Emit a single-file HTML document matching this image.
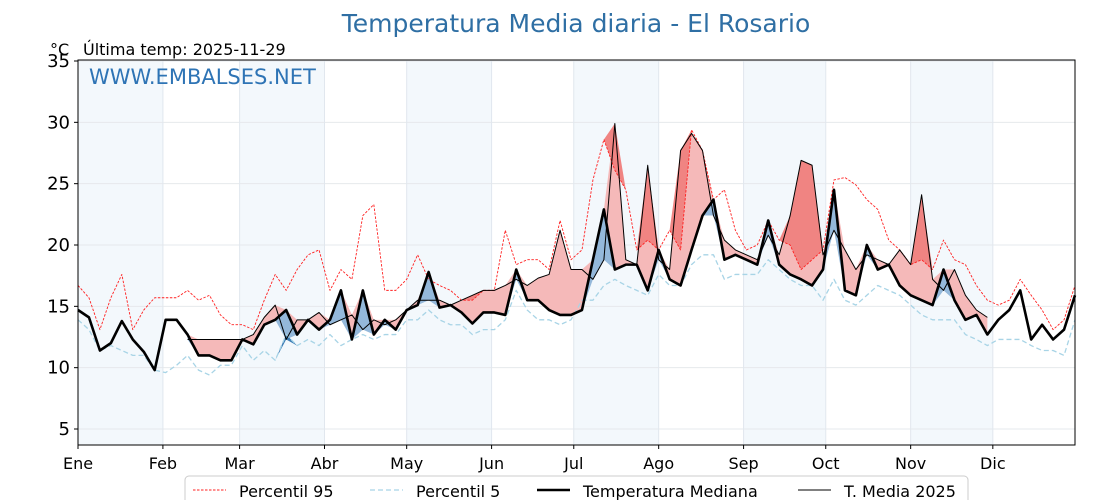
<!DOCTYPE html>
<html><head><meta charset="utf-8"><style>
body{margin:0;background:#fff;}
svg{display:block;font-family:"Liberation Sans","DejaVu Sans",sans-serif;}
</style></head><body>
<svg id="chart" width="1120" height="500" viewBox="0 0 1120 500" xmlns="http://www.w3.org/2000/svg">
<text x="576" y="32" text-anchor="middle" font-size="25" fill="#2f6fa4" font-family="DejaVu Sans, sans-serif">Temperatura Media diaria - El Rosario</text>
<text x="50" y="55" font-size="16" fill="#000" font-family="DejaVu Sans, sans-serif">°C</text>
<text x="83" y="55" font-size="16" fill="#000" font-family="DejaVu Sans, sans-serif">Última temp: 2025-11-29</text>
<g id="plot"></g>
</svg>
<script>
const monthLabels=["Ene","Feb","Mar","Abr","May","Jun","Jul","Ago","Sep","Oct","Nov","Dic"];
const monthStarts=[0,31,59,90,120,151,181,212,243,273,304,334];
const yTicks=[5,10,15,20,25,30,35];
const sampleStep=4;
const median=[14.7,14.1,11.4,12.0,13.8,12.3,11.3,9.8,13.9,13.9,12.7,11.0,11.0,10.6,10.6,12.3,11.9,13.5,13.9,14.7,12.7,13.9,13.1,13.9,16.3,12.3,16.3,12.7,13.9,13.1,14.7,15.1,17.8,14.9,15.1,14.5,13.6,14.5,14.5,14.3,18.0,15.5,15.5,14.7,14.3,14.3,14.7,18.8,22.9,18.0,18.4,18.4,16.3,19.6,17.2,16.7,19.6,22.4,23.7,18.8,19.2,18.8,18.4,22.0,18.4,17.6,17.2,16.7,18.0,24.5,16.3,15.9,20.0,18.0,18.4,16.7,15.9,15.5,15.1,18.0,15.5,13.9,14.3,12.7,13.9,14.7,16.3,12.3,13.5,12.3,13.1,15.9];
const p95=[16.7,15.7,13.1,15.7,17.6,13.1,14.7,15.7,15.7,15.7,16.3,15.5,15.9,14.3,13.5,13.5,13.1,15.5,17.6,16.3,18.0,19.2,19.6,16.3,18.0,17.2,22.4,23.3,16.3,16.3,17.2,19.2,17.2,16.7,16.3,15.5,15.5,16.3,16.3,21.2,18.4,18.8,18.8,18.0,22.0,18.8,19.6,25.3,28.6,26.1,24.5,19.6,20.4,19.6,21.2,19.6,29.4,27.7,23.7,24.5,21.2,19.6,20.0,22.0,20.4,20.0,18.0,18.8,19.6,25.3,25.5,24.9,23.7,22.9,20.4,19.6,18.4,18.8,18.0,20.4,18.8,18.4,16.7,15.5,15.1,15.5,17.2,15.9,14.7,13.1,13.9,16.7];
const p5=[13.9,13.1,11.4,11.8,11.4,11.0,11.0,9.8,9.6,10.2,11.0,9.8,9.4,10.2,10.2,11.8,10.6,11.4,10.6,12.7,11.8,12.3,11.8,12.7,11.8,12.3,12.7,12.3,12.7,12.7,13.9,13.9,14.7,13.9,13.5,13.5,12.7,13.1,13.1,13.9,16.3,14.7,13.9,13.9,13.5,13.9,15.5,15.5,16.7,17.2,16.7,16.3,15.9,17.6,16.7,16.7,18.4,19.2,19.2,17.2,17.6,17.6,17.6,18.8,18.0,17.2,16.7,16.7,15.5,17.2,15.5,15.1,15.9,16.7,16.3,15.9,15.1,14.3,13.9,13.9,13.9,12.7,12.3,11.8,12.3,12.3,12.3,11.8,11.4,11.4,11.0,13.9];
const t2025Start=40;
const t2025=[12.3,12.3,12.3,12.3,12.3,12.3,12.7,14.1,15.1,12.3,13.9,13.9,14.5,13.5,13.9,14.3,13.1,13.9,13.5,13.9,14.7,15.5,15.5,15.5,15.1,15.5,15.9,16.3,16.3,16.7,17.2,16.7,17.3,17.6,21.2,18.0,18.0,17.2,18.8,29.9,18.8,18.4,26.5,18.8,18.0,27.7,29.1,27.7,22.4,20.4,19.6,19.2,18.8,20.8,19.2,22.4,26.9,26.5,19.2,21.2,19.6,18.0,19.2,18.8,18.4,19.6,18.4,24.1,17.2,16.3,18.0,15.9,14.7,14.1];

const NS="http://www.w3.org/2000/svg";
const L=78,R=1075,T=60,B=445;
const xs=d=>L+(d/364)*(R-L);
const ys=v=>429-(v-5)*(429-61)/30;
const g=document.getElementById('plot');
function mk(tag,attrs,parent){const e=document.createElementNS(NS,tag);for(const k in attrs)e.setAttribute(k,attrs[k]);(parent||g).appendChild(e);return e;}

monthStarts.forEach((m,i)=>{
  if(i%2===0){const end=i+1<12?monthStarts[i+1]:364;
    const r=mk('rect',{x:xs(m),y:T,width:xs(end)-xs(m),height:B-T,fill:'#f3f8fc'});
    
    }
});
yTicks.forEach(v=>{const l=mk('line',{x1:L,x2:R,y1:ys(v),y2:ys(v),stroke:'#e6e9ec','stroke-width':1});
  
  });
monthStarts.forEach(m=>{const l=mk('line',{x1:xs(m),x2:xs(m),y1:T,y2:B,stroke:'#e1e7ee','stroke-width':1});
  
  });

function med(d){return median[Math.round(d/sampleStep)];}
function pp95(d){return p95[Math.round(d/sampleStep)];}
function pp5(d){return p5[Math.round(d/sampleStep)];}
const pts25=t2025.map((v,i)=>({d:t2025Start+i*sampleStep,v}));

function band(topFn,botFn,color,name){
  let top=pts25.map(p=>xs(p.d)+','+ys(topFn(p))).join(' ');
  let bot=pts25.slice().reverse().map(p=>xs(p.d)+','+ys(botFn(p))).join(' ');
  const e=mk('polygon',{points:top+' '+bot,fill:color,stroke:'none'});
  
  
}
band(p=>Math.max(p.v,med(p.d)),p=>med(p.d),'#f5b9b9','above-median-fill');
band(p=>Math.max(p.v,pp95(p.d),med(p.d)),p=>Math.max(pp95(p.d),med(p.d)),'#f08482','above-p95-fill');
band(p=>Math.min(p.v,med(p.d)),p=>med(p.d),'#94b8da','below-median-fill');
band(p=>Math.min(p.v,pp5(p.d),med(p.d)),p=>Math.min(pp5(p.d),med(p.d)),'#3d7db5','below-p5-fill');

function line(arr,start,attrs,name){
  const pts=arr.map((v,i)=>xs(start+i*sampleStep)+','+ys(v)).join(' ');
  const e=mk('polyline',Object.assign({points:pts,fill:'none','stroke-linejoin':'round'},attrs));
  
  
}
line(p95,0,{stroke:'#ff2020','stroke-width':0.9,'stroke-dasharray':'2.5,1.5'},'p95-line');
line(p5,0,{stroke:'#a8d4e6','stroke-width':1.3,'stroke-dasharray':'5,3'},'p5-line');
line(median,0,{stroke:'#000','stroke-width':2.6},'median-line');
line(t2025,t2025Start,{stroke:'#000','stroke-width':1},'t2025-line');

const fr=mk('rect',{x:L,y:T,width:R-L,height:B-T,fill:'none',stroke:'#000','stroke-width':1});



yTicks.forEach(v=>{
  const tk=mk('line',{x1:L-4,x2:L,y1:ys(v),y2:ys(v),stroke:'#000'});
  
  
  const t=mk('text',{x:L-8,y:ys(v)+6,'text-anchor':'end','font-size':18,'font-family':'DejaVu Sans, sans-serif'});
  t.textContent=v;
  
  
});
monthStarts.forEach((m,i)=>{
  const tk=mk('line',{x1:xs(m),x2:xs(m),y1:B,y2:B+4,stroke:'#000'});
  
  
  const t=mk('text',{x:xs(m),y:469,'text-anchor':'middle','font-size':16,'font-family':'DejaVu Sans, sans-serif'});
  t.textContent=monthLabels[i];
  
  
});

const wm=mk('text',{x:89,y:84,'font-size':21,fill:'#2e74b5','font-family':'DejaVu Sans, sans-serif'});
wm.textContent='WWW.EMBALSES.NET';



const lg=mk('g',{});


mk('rect',{x:185,y:476,width:783,height:30,rx:4,fill:'#fff',stroke:'#ccc'},lg);
const items=[
  {x:193,label:'Percentil 95',st:{stroke:'#ff2020','stroke-width':0.9,'stroke-dasharray':'2.5,1.5'}},
  {x:370,label:'Percentil 5',st:{stroke:'#a8d4e6','stroke-width':1.3,'stroke-dasharray':'5,3'}},
  {x:537,label:'Temperatura Mediana',st:{stroke:'#000','stroke-width':2.6}},
  {x:798,label:'T. Media 2025',st:{stroke:'#000','stroke-width':1}}
];
items.forEach(it=>{
  const e=mk('g',{},lg);
  
  
  mk('line',Object.assign({x1:it.x,x2:it.x+33,y1:490,y2:490},it.st),e);
  const t=mk('text',{x:it.x+46,y:497,'font-size':16,'font-family':'DejaVu Sans, sans-serif'},e);
  t.textContent=it.label;
});
</script>
</body></html>
